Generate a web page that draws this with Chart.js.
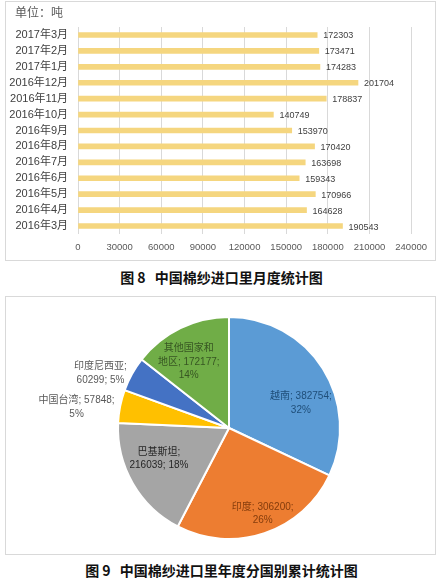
<!DOCTYPE html>
<html>
<head>
<meta charset="utf-8">
<script src="https://cdn.jsdelivr.net/npm/chart.js@4.4.1/dist/chart.umd.min.js"></script>
<style>
html,body{margin:0;padding:0;background:#fff;width:443px;height:580px;overflow:hidden;position:relative;}
.box{position:absolute;border:1px solid #d9d9d9;box-sizing:border-box;background:#fff;}
.box canvas{position:absolute;left:0;top:0;}
.cap{position:absolute;left:0;width:443px;text-align:center;font-family:"Noto Sans CJK SC",sans-serif;font-weight:bold;font-size:14px;line-height:20px;color:#111;}
.cap span{margin-right:6px;}
</style>
</head>
<body>
<div class="box" style="left:5px;top:1px;width:431px;height:260px;"><canvas id="bar" width="429" height="258" style="width:429px;height:258px;"></canvas></div>
<div class="cap" style="top:267px;">图 <span>8</span> 中国棉纱进口里月度统计图</div>
<div class="box" style="left:5px;top:296px;width:431px;height:259px;"><canvas id="pie" width="429" height="257" style="width:429px;height:257px;"></canvas></div>
<div class="cap" style="top:560px;">图 <span>9</span> 中国棉纱进口里年度分国别累计统计图</div>
<script>
// ---- Data ----
const months = ['2017年3月','2017年2月','2017年1月','2016年12月','2016年11月','2016年10月','2016年9月','2016年8月','2016年7月','2016年6月','2016年5月','2016年4月','2016年3月'];
const imports = [172303,173471,174283,201704,178837,140749,153970,170420,163698,159343,170966,164628,190543];
const xTicks = [0,30000,60000,90000,120000,150000,180000,210000,240000];
const unitLabel = '单位：吨';

const countries = ['越南','印度','巴基斯坦','中国台湾','印度尼西亚','其他国家和地区'];
const countryVolumes = [382754,306200,216039,57848,60299,172177];

// ---- Styles / layout ----
const FONT = '"Liberation Sans","Noto Sans CJK SC",sans-serif';
const sliceColors = ['#5B9BD5','#ED7D31','#A5A5A5','#FFC000','#4472C4','#70AD47'];
const labelColors = ['#1F4E79','#843C0C','#262626','#595959','#595959','#375623'];
// offsets relative to arc centroid, and line templates
const pieLabelLayout = [
  {dx:25, dy:5,  lines:['{n}; {v};','{p}%']},
  {dx:16, dy:33, lines:['{n}; {v};','{p}%']},
  {dx:-22, dy:3, lines:['{n};','{v}; {p}%']},
  {dx:-98, dy:-10, lines:['{n}; {v};','{p}%']},
  {dx:-80, dy:-28, lines:['{n};','{v}; {p}%']},
  {dx:-16, dy:-16, wrap:5, lines:['{n1}','{n2}; {v};','{p}%']}
];

const barLabels = {
  id:'barLabels',
  afterDatasetsDraw(chart){
    const ctx = chart.ctx;
    const meta = chart.getDatasetMeta(0);
    ctx.save();
    ctx.font = '9px ' + FONT;
    ctx.fillStyle = '#404040';
    ctx.textAlign = 'left';
    ctx.textBaseline = 'middle';
    meta.data.forEach((bar,i)=>{
      ctx.fillText(String(imports[i]), bar.x + 6, bar.y + 1);
    });
    ctx.font = '12px ' + FONT;
    ctx.fillStyle = '#595959';
    ctx.fillText(unitLabel, 9, 12);
    ctx.restore();
  }
};

new Chart(document.getElementById('bar'), {
  type:'bar',
  data:{
    labels: months,
    datasets:[{data: imports, backgroundColor:'#F5D67F', barThickness:5, borderWidth:0}]
  },
  options:{
    indexAxis:'y',
    responsive:false,
    animation:false,
    devicePixelRatio:1,
    layout:{padding:{left:0,right:22,top:25,bottom:0}},
    plugins:{
      legend:{display:false},
      tooltip:{enabled:false}
    },
    scales:{
      x:{
        min:0,max:240000,
        afterBuildTicks(s){ s.ticks = xTicks.map(v=>({value:v})); },
        afterFit(s){ s.height = 26; },
        grid:{color:'#D9D9D9',lineWidth:1,drawTicks:false},
        border:{display:false},
        ticks:{padding:8,color:'#595959',font:{size:9.5,family:FONT},maxRotation:0,autoSkip:false,
          callback:(v)=>String(v)}
      },
      y:{
        afterFit(s){ s.width = 72; },
        grid:{display:false,drawTicks:false},
        border:{display:false},
        ticks:{padding:10,color:'#404040',font:{size:11,family:FONT},autoSkip:false}
      }
    }
  },
  plugins:[barLabels]
});

const pieLabels = {
  id:'pieLabels',
  afterDatasetsDraw(chart){
    const ctx = chart.ctx;
    const meta = chart.getDatasetMeta(0);
    const total = countryVolumes.reduce((a,b)=>a+b,0);
    ctx.save();
    ctx.font = '10px ' + FONT;
    ctx.textAlign = 'center';
    ctx.textBaseline = 'middle';
    meta.data.forEach((arc,i)=>{
      const p = arc.tooltipPosition();
      const L = pieLabelLayout[i];
      const name = countries[i];
      const pct = Math.round(countryVolumes[i]/total*100);
      const n1 = L.wrap ? name.slice(0,L.wrap) : name;
      const n2 = L.wrap ? name.slice(L.wrap) : '';
      const lines = L.lines.map(t=>t.replace('{n1}',n1).replace('{n2}',n2).replace('{n}',name)
        .replace('{v}',String(countryVolumes[i])).replace('{p}',String(pct)));
      const lh = 13.5;
      ctx.fillStyle = labelColors[i];
      const x = p.x + L.dx, y = p.y + L.dy;
      lines.forEach((t,k)=>ctx.fillText(t, x, y + (k-(lines.length-1)/2)*lh));
    });
    ctx.restore();
  }
};

new Chart(document.getElementById('pie'), {
  type:'pie',
  data:{
    labels: countries,
    datasets:[{data: countryVolumes, backgroundColor: sliceColors, borderColor:'#ffffff', borderWidth:2, hoverOffset:0, radius:111}]
  },
  options:{
    responsive:false,
    animation:false,
    devicePixelRatio:1,
    layout:{padding:{left:112,right:95,top:20,bottom:15}},
    plugins:{legend:{display:false},tooltip:{enabled:false}}
  },
  plugins:[pieLabels]
});
</script>
</body>
</html>
